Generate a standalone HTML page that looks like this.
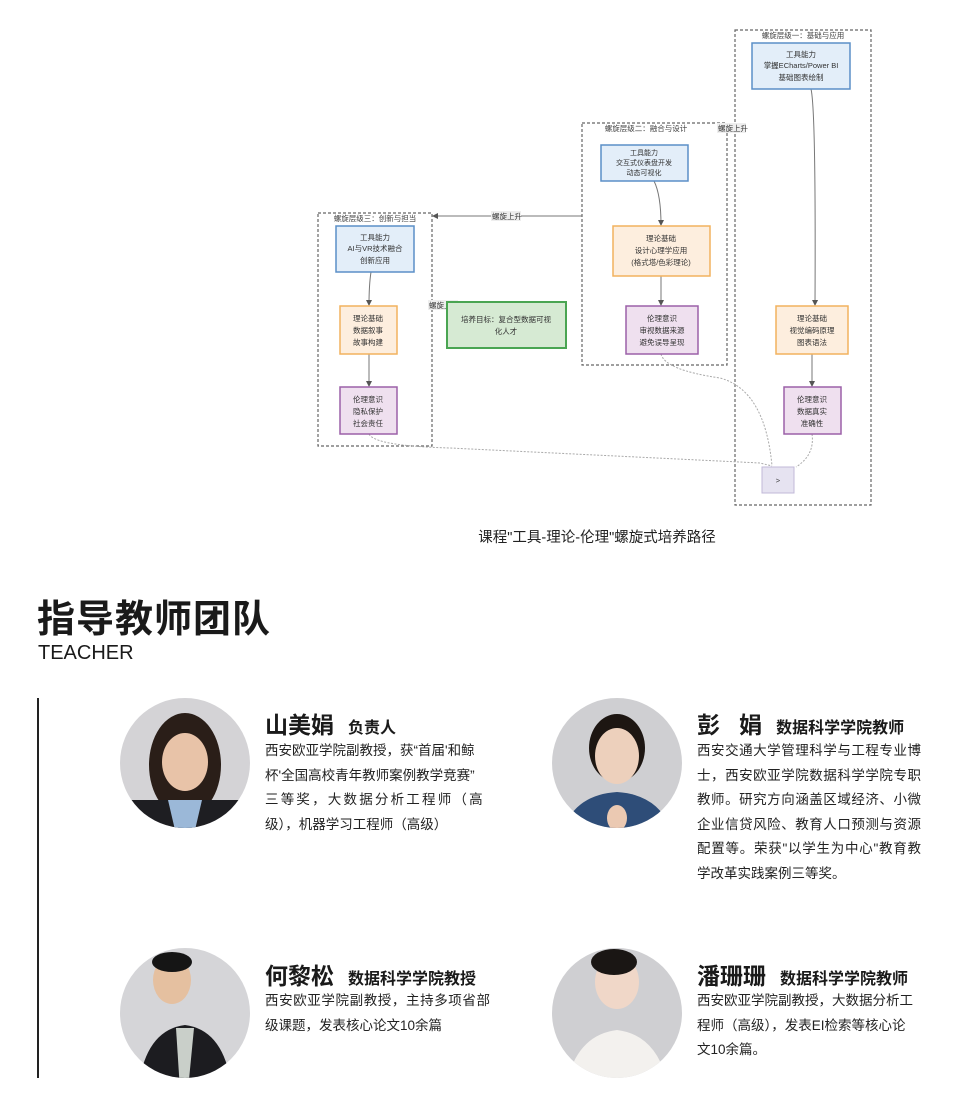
<!DOCTYPE html>
<html><head><meta charset="utf-8"><style>
body{margin:0;background:#fff;width:955px;height:1109px;position:relative;overflow:hidden;font-family:"Liberation Sans","Noto Sans CJK SC",sans-serif;color:#222}
.a{position:absolute}
.nm{font-size:23px;font-weight:bold;color:#1a1a1a;white-space:nowrap}
.nm span{font-size:16px;margin-left:14px}
.tx{font-size:13.5px;line-height:24.5px;color:#222;text-align:justify}
.nw{white-space:nowrap;text-align:left}
svg text{font-family:"Liberation Sans","Noto Sans CJK SC",sans-serif}
</style></head><body>
<svg class="a" style="left:0;top:0" width="955" height="560">
<defs><marker id="ar" markerWidth="6" markerHeight="6" refX="5" refY="3" orient="auto"><path d="M0,0L6,3L0,6z" fill="#555"/></marker></defs>
<g fill="none" stroke="#666" stroke-dasharray="3,2" stroke-width="1.2">
<rect x="735" y="30" width="136" height="475"/>
<rect x="582" y="123" width="145" height="242"/>
<rect x="318" y="213" width="114" height="233"/>
</g>
<g font-size="7.5" fill="#444" text-anchor="middle">
<text x="803" y="38">螺旋层级一：基础与应用</text>
<text x="646" y="131">螺旋层级二：融合与设计</text>
<text x="375" y="221">螺旋层级三：创新与担当</text>
</g>
<g stroke="#777" fill="none" stroke-width="1">
<path d="M811,89 Q816,110 815,305" marker-end="url(#ar)"/>
<path d="M812,354 L812,386" marker-end="url(#ar)"/>
<path d="M654,181 Q661,195 661,225" marker-end="url(#ar)"/>
<path d="M661,276 L661,305" marker-end="url(#ar)"/>
<path d="M371,272 Q369,285 369,305" marker-end="url(#ar)"/>
<path d="M369,354 L369,386" marker-end="url(#ar)"/>
<path d="M582,216 L433,216" marker-end="url(#ar)"/>
<g stroke-dasharray="2,1.5" stroke="#aaa">
<path d="M661,354 Q665,370 720,378 Q765,390 772,466"/>
<path d="M369,434 Q375,446 450,448 L760,463 L772,466"/>
<path d="M812,434 Q815,455 796,467"/>
</g>
</g>
<g font-size="7.5" fill="#333">
<rect x="717" y="123" width="29" height="10" fill="#eee"/><text x="718" y="131">螺旋上升</text>
<rect x="491" y="211" width="30" height="10" fill="#eee"/><text x="492" y="219">螺旋上升</text>
<rect x="428" y="300" width="30" height="10" fill="#eee"/><text x="429" y="308">螺旋上升</text>
</g>
<g stroke-width="1.5">
<rect x="752" y="43" width="98" height="46" fill="#e3eef9" stroke="#5b8fc7"/>
<rect x="601" y="145" width="87" height="36" fill="#e3eef9" stroke="#5b8fc7"/>
<rect x="336" y="226" width="78" height="46" fill="#e3eef9" stroke="#5b8fc7"/>
<rect x="613" y="226" width="97" height="50" fill="#fdeede" stroke="#f2b25e"/>
<rect x="340" y="306" width="57" height="48" fill="#fdeede" stroke="#f2b25e"/>
<rect x="776" y="306" width="72" height="48" fill="#fdeede" stroke="#f2b25e"/>
<rect x="626" y="306" width="72" height="48" fill="#efe0ef" stroke="#9c60a8"/>
<rect x="340" y="387" width="57" height="47" fill="#efe0ef" stroke="#9c60a8"/>
<rect x="784" y="387" width="57" height="47" fill="#efe0ef" stroke="#9c60a8"/>
<rect x="447" y="302" width="119" height="46" fill="#d6ead3" stroke="#4aa552" stroke-width="2"/>
<rect x="762" y="467" width="32" height="26" fill="#e6e3f1" stroke="#c1b8d8" stroke-width="1"/>
</g>
<g font-size="7.5" fill="#333" text-anchor="middle">
<text x="801" y="57">工具能力</text><text x="801" y="68">掌握ECharts/Power BI</text><text x="801" y="80">基础图表绘制</text>
<text x="644" y="155" font-size="7">工具能力</text><text x="644" y="165" font-size="7">交互式仪表盘开发</text><text x="644" y="175" font-size="7">动态可视化</text>
<text x="375" y="240">工具能力</text><text x="375" y="251">AI与VR技术融合</text><text x="375" y="263">创新应用</text>
<text x="661" y="241">理论基础</text><text x="661" y="253">设计心理学应用</text><text x="661" y="265">(格式塔/色彩理论)</text>
<text x="368" y="321">理论基础</text><text x="368" y="333">数据叙事</text><text x="368" y="345">故事构建</text>
<text x="812" y="321">理论基础</text><text x="812" y="333">视觉编码原理</text><text x="812" y="345">图表语法</text>
<text x="662" y="321">伦理意识</text><text x="662" y="333">审视数据来源</text><text x="662" y="345">避免误导呈现</text>
<text x="368" y="402">伦理意识</text><text x="368" y="414">隐私保护</text><text x="368" y="426">社会责任</text>
<text x="812" y="402">伦理意识</text><text x="812" y="414">数据真实</text><text x="812" y="426">准确性</text>
<text x="506" y="322">培养目标：复合型数据可视</text><text x="506" y="334">化人才</text>
<text x="778" y="483">&gt;</text>
</g>
<text x="597" y="542" font-size="14.5" fill="#222" text-anchor="middle">课程"工具-理论-伦理"螺旋式培养路径</text>
</svg>

<div class="a" style="left:37px;top:596px;font-size:38px;line-height:48px;font-weight:bold;color:#1a1a1a;letter-spacing:1px">指导教师团队</div>
<div class="a" style="left:38px;top:642px;font-size:20px;line-height:22px;color:#1a1a1a">TEACHER</div>
<div class="a" style="left:37px;top:698px;width:2px;height:380px;background:#222"></div>

<svg class="a" style="left:0;top:690px" width="955" height="400">
<defs>
<clipPath id="c1"><circle cx="185" cy="73" r="65"/></clipPath>
<clipPath id="c2"><circle cx="617" cy="73" r="65"/></clipPath>
<clipPath id="c3"><circle cx="185" cy="323" r="65"/></clipPath>
<clipPath id="c4"><circle cx="617" cy="323" r="65"/></clipPath>
</defs>
<g clip-path="url(#c1)"><rect x="110" y="0" width="150" height="150" fill="#d4d3d6"/>
<ellipse cx="185" cy="75" rx="36" ry="52" fill="#2a1e18"/><rect x="120" y="110" width="130" height="40" fill="#1e1e22"/><path d="M168,110 L202,110 L195,140 L175,140z" fill="#9bb8d8"/><ellipse cx="185" cy="72" rx="23" ry="29" fill="#e8c3a8"/></g>
<g clip-path="url(#c2)"><rect x="542" y="0" width="150" height="150" fill="#cfcfd2"/>
<ellipse cx="617" cy="58" rx="28" ry="34" fill="#1d1612"/><path d="M560,150 Q570,105 617,102 Q664,105 674,150z" fill="#2e4d78"/><ellipse cx="617" cy="66" rx="22" ry="28" fill="#edd0bc"/><ellipse cx="617" cy="128" rx="10" ry="13" fill="#ebc9b2"/></g>
<g clip-path="url(#c3)"><rect x="110" y="250" width="150" height="150" fill="#d5d5d8"/>
<path d="M138,400 Q145,340 185,335 Q225,340 232,400z" fill="#1c1c20"/><path d="M176,338 L194,338 L188,400 L180,400z" fill="#c9cfc9"/><ellipse cx="172" cy="290" rx="19" ry="24" fill="#e5c0a0"/><ellipse cx="172" cy="272" rx="20" ry="10" fill="#151515"/></g>
<g clip-path="url(#c4)"><rect x="542" y="250" width="150" height="150" fill="#cfcfd2"/>
<path d="M565,400 Q575,345 617,340 Q659,345 669,400z" fill="#f3f1ee"/><ellipse cx="617" cy="292" rx="22" ry="27" fill="#f0d7c8"/><ellipse cx="614" cy="272" rx="23" ry="13" fill="#1a1614"/></g>
</svg>

<div class="a nm" style="left:265px;top:706px">山美娟<span>负责人</span></div>
<div class="a tx nw" style="left:265px;top:739px;width:240px">西安欧亚学院副教授，获“首届'和鲸<br>杯'全国高校青年教师案例教学竞赛”<br><span style="letter-spacing:2.2px">三等奖，大数据分析工程师（高</span><br>级），机器学习工程师（高级）</div>

<div class="a nm" style="left:697px;top:706px">彭&nbsp;&nbsp;&nbsp;娟<span>数据科学学院教师</span></div>
<div class="a tx" style="left:697px;top:739px;width:224px">西安交通大学管理科学与工程专业博士，西安欧亚学院数据科学学院专职教师。研究方向涵盖区域经济、小微企业信贷风险、教育人口预测与资源配置等。荣获"以学生为中心"教育教学改革实践案例三等奖。</div>

<div class="a nm" style="left:265px;top:957px">何黎松<span>数据科学学院教授</span></div>
<div class="a tx" style="left:265px;top:989px;width:225px">西安欧亚学院副教授，主持多项省部级课题，发表核心论文10余篇</div>

<div class="a nm" style="left:697px;top:957px">潘珊珊<span>数据科学学院教师</span></div>
<div class="a tx nw" style="left:697px;top:989px;width:240px">西安欧亚学院副教授，大数据分析工<br>程师（高级），发表EI检索等核心论<br>文10余篇。</div>
</body></html>
